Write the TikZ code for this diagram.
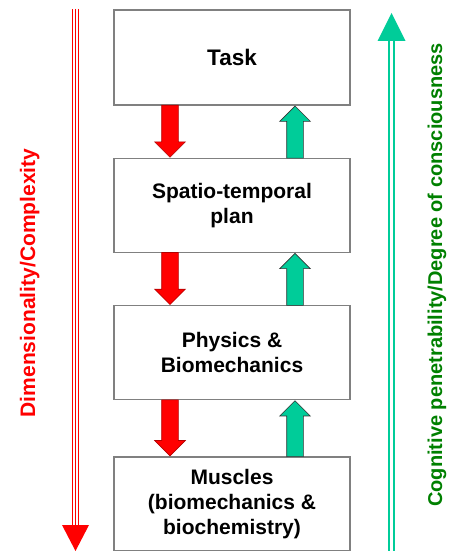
\documentclass[tikz,border=0pt]{standalone}
\usepackage{fontspec}
\setmainfont{Liberation Sans}
\usetikzlibrary{positioning}
\usetikzlibrary{calc}
\usetikzlibrary{shapes.arrows}
\definecolor{mgreen}{RGB}{0, 204, 153}
\definecolor{dgreen}{RGB}{0, 128, 0}
\tikzset{level/.style = {draw = gray, line width = 1.3, fill = white,
                         minimum width = 236, minimum height = 94, align = center,
                         font = \bfseries\fontsize{21}{25}\selectfont}}
\tikzset{blockarrow/.style = {single arrow, single arrow head extend = 7, anchor = tip,
                              inner xsep = 0, inner ysep = 8, line width = 0.6}}
\tikzset{downarrow/.style = {blockarrow, rotate = -90, fill = red, draw = red!70!black}}
\tikzset{uparrow/.style = {blockarrow, rotate = 90, fill = mgreen, draw = black!80}}
\tikzset{triple/.style = {red, line width = 1, double = white, double distance = 4.5,
                          postaction = {draw, red, line width = 1.8}}}
\tikzset{sidetext/.style = {rotate = 90, anchor = base, inner sep = 0,
                            font = \bfseries\fontsize{21}{25}\selectfont}}

\begin{document}
\begin{tikzpicture}[x = 1pt, y = -1pt]
      \useasboundingbox (0, 0) rectangle (448, 551);

      % levels
      \node [level, minimum height = 95] (task) at (232, 57.5) {\fontsize{22.5}{26}\selectfont Task};
      \node [level, below = 52pt of task] (plan) {Spatio-temporal\\plan};
      \node [level, below = 52pt of plan] (phys) {Physics \&\\Biomechanics};
      \node [level, below = 56pt of phys] (musc) {Muscles\\(biomechanics \&\\biochemistry)};

      \coordinate (redx) at (170, 0);
      \coordinate (grnx) at (295, 0);

      % arrows between levels
      \node [downarrow, minimum height = 52] (d1) at (plan.north -| redx) {};
      \node [downarrow, minimum height = 52] (d2) at (phys.north -| redx) {};
      \node [downarrow, minimum height = 56] (d3) at (musc.north -| redx) {};
      \node [uparrow, minimum height = 52] (u1) at (task.south -| grnx) {};
      \node [uparrow, minimum height = 52] (u2) at (plan.south -| grnx) {};
      \node [uparrow, minimum height = 56] (u3) at (phys.south -| grnx) {};

      % left axis
      \coordinate (dtop) at (75.5, 9);
      \coordinate (dbase) at (75.5, 525);
      \coordinate (dtip) at (75.5, 551);
      \draw [triple] (dtop) -- (dbase);
      \fill [red] ($(dbase) + (-13.5, 0)$) -- ($(dbase) + (13.5, 0)$) -- (dtip) -- cycle;
      \node [sidetext, red] (dim) at (35, 283) {Dimensionality/Complexity};

      % right axis
      \coordinate (cbot) at (391.5, 551);
      \coordinate (cbase) at (391.5, 41);
      \coordinate (ctip) at (391.5, 13);
      \draw [mgreen, line width = 2, double = white, double distance = 3] (cbot) -- (cbase);
      \fill [mgreen] ($(cbase) + (-14, 0)$) -- ($(cbase) + (14, 0)$) -- (ctip) -- cycle;
      \node [sidetext, dgreen, font = \bfseries\fontsize{20}{24}\selectfont] (cog) at (442, 275)
            {Cognitive penetrability/Degree of consciousness};
    \end{tikzpicture}
\end{document}
